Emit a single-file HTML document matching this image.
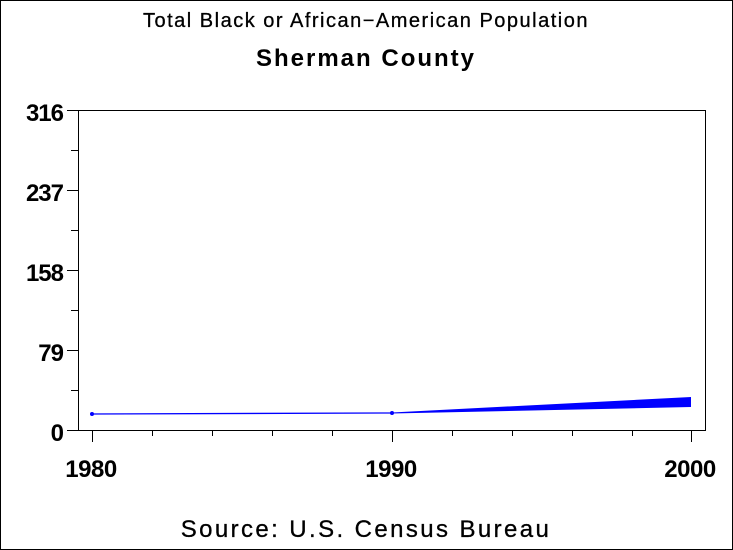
<!DOCTYPE html>
<html><head><style>
html,body{margin:0;padding:0;background:#fff}
svg{display:block}
text{font-family:"Liberation Sans",Arial,sans-serif;fill:#000}
</style></head><body>
<svg width="733" height="550" viewBox="0 0 733 550" xmlns="http://www.w3.org/2000/svg">
<rect x="0.5" y="0.5" width="732" height="549" fill="#fff" stroke="#000"/>
<text x="366" y="27" font-size="20" text-anchor="middle" letter-spacing="1.5" stroke="#000" stroke-width="0.3">Total Black or African−American Population</text>
<text x="366" y="66" font-size="24" text-anchor="middle" font-weight="bold" letter-spacing="2">Sherman County</text>
<rect x="78.5" y="110.5" width="627" height="320" fill="none" stroke="#000"/>
<g stroke="#000" stroke-width="1">
<line x1="67" y1="110.5" x2="78" y2="110.5"/>
<line x1="67" y1="190.5" x2="78" y2="190.5"/>
<line x1="67" y1="270.5" x2="78" y2="270.5"/>
<line x1="67" y1="350.5" x2="78" y2="350.5"/>
<line x1="67" y1="430.5" x2="78" y2="430.5"/>
<line x1="71" y1="150.5" x2="78" y2="150.5"/>
<line x1="71" y1="230.5" x2="78" y2="230.5"/>
<line x1="71" y1="310.5" x2="78" y2="310.5"/>
<line x1="71" y1="390.5" x2="78" y2="390.5"/>
<line x1="92.5" y1="431" x2="92.5" y2="442"/>
<line x1="392.5" y1="431" x2="392.5" y2="442"/>
<line x1="691.5" y1="431" x2="691.5" y2="442"/>
<line x1="152.5" y1="431" x2="152.5" y2="436"/>
<line x1="212.5" y1="431" x2="212.5" y2="436"/>
<line x1="272.5" y1="431" x2="272.5" y2="436"/>
<line x1="332.5" y1="431" x2="332.5" y2="436"/>
<line x1="452.5" y1="431" x2="452.5" y2="436"/>
<line x1="512.5" y1="431" x2="512.5" y2="436"/>
<line x1="572.5" y1="431" x2="572.5" y2="436"/>
<line x1="632.5" y1="431" x2="632.5" y2="436"/>
</g>
<g font-size="24" font-weight="bold" text-anchor="end" letter-spacing="-1">
<text x="63" y="121">316</text>
<text x="63" y="201">237</text>
<text x="63" y="281">158</text>
<text x="63" y="361">79</text>
<text x="63" y="441">0</text>
</g>
<g font-size="24" font-weight="bold" text-anchor="middle" letter-spacing="-0.5">
<text x="91" y="477">1980</text>
<text x="391" y="477">1990</text>
<text x="690" y="477">2000</text>
</g>
<line x1="92" y1="414" x2="392" y2="413" stroke="#00f" stroke-width="1.3"/>
<polygon points="392,412.5 691,397 691,407 392,413.5" fill="#00f"/>
<circle cx="92" cy="414" r="2" fill="#00f"/>
<circle cx="392" cy="413" r="2" fill="#00f"/>
<text x="366" y="537" font-size="24" text-anchor="middle" letter-spacing="2.4" stroke="#000" stroke-width="0.3">Source: U.S. Census Bureau</text>
</svg>
</body></html>
